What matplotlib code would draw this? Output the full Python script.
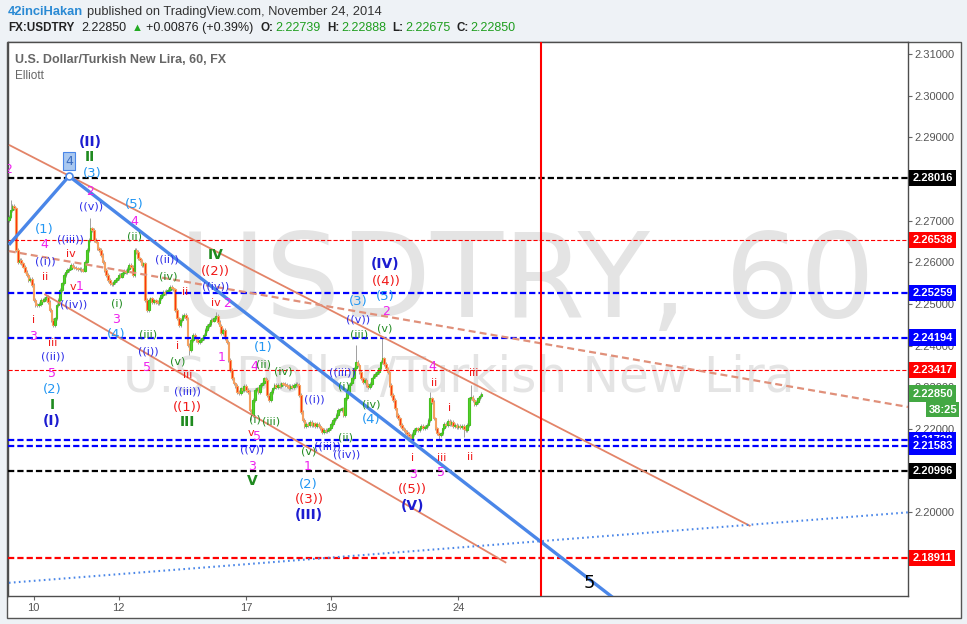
import matplotlib
matplotlib.use('Agg')
import matplotlib.pyplot as plt
import matplotlib.transforms as mtransforms
from matplotlib.patches import Rectangle
import numpy as np

plt.rcParams['lines.scale_dashes'] = False

W, H = 967, 624

# USDTRY, 60 min closes
closes = [
    2.2710, 2.2725, 2.2735, 2.2730, 2.2630, 2.2601, 2.2606, 2.2598, 2.2590, 2.2578,
    2.2570, 2.2558, 2.2560, 2.2546, 2.2510, 2.2498, 2.2497, 2.2500, 2.2510, 2.2508,
    2.2512, 2.2517, 2.2505, 2.2486, 2.2462, 2.2450, 2.2466, 2.2498, 2.2510, 2.2534,
    2.2550, 2.2570, 2.2576, 2.2582, 2.2585, 2.2594, 2.2590, 2.2587, 2.2586, 2.2583,
    2.2585, 2.2582, 2.2580, 2.2601, 2.2630, 2.2654, 2.2682, 2.2678, 2.2654, 2.2650,
    2.2634, 2.2630, 2.2618, 2.2601, 2.2582, 2.2570, 2.2558, 2.2550, 2.2548, 2.2552,
    2.2557, 2.2562, 2.2570, 2.2566, 2.2574, 2.2580, 2.2576, 2.2584, 2.2594, 2.2590,
    2.2570, 2.2630, 2.2625, 2.2610, 2.2605, 2.2594, 2.2598, 2.2510, 2.2486, 2.2510,
    2.2514, 2.2505, 2.2509, 2.2505, 2.2502, 2.2514, 2.2522, 2.2529, 2.2526, 2.2531,
    2.2534, 2.2541, 2.2538, 2.2535, 2.2486, 2.2466, 2.2450, 2.2462, 2.2471, 2.2474,
    2.2466, 2.2402, 2.2390, 2.2414, 2.2426, 2.2421, 2.2414, 2.2409, 2.2414, 2.2418,
    2.2426, 2.2438, 2.2447, 2.2452, 2.2462, 2.2460, 2.2466, 2.2471, 2.2457, 2.2447,
    2.2430, 2.2438, 2.2418, 2.2409, 2.2366, 2.2342, 2.2322, 2.2310, 2.2303, 2.2289,
    2.2286, 2.2298, 2.2294, 2.2303, 2.2294, 2.2289, 2.2245, 2.2234, 2.2270, 2.2294,
    2.2298, 2.2289, 2.2306, 2.2310, 2.2322, 2.2318, 2.2282, 2.2270, 2.2289, 2.2298,
    2.2306, 2.2301, 2.2306, 2.2303, 2.2310, 2.2308, 2.2306, 2.2303, 2.2298, 2.2303,
    2.2301, 2.2306, 2.2308, 2.2306, 2.2282, 2.2241, 2.2222, 2.2207, 2.2212, 2.2210,
    2.2217, 2.2210, 2.2214, 2.2207, 2.2212, 2.2207, 2.2202, 2.2193, 2.2198, 2.2195,
    2.2198, 2.2202, 2.2212, 2.2222, 2.2226, 2.2234, 2.2246, 2.2246, 2.2250, 2.2234,
    2.2274, 2.2289, 2.2306, 2.2310, 2.2322, 2.2346, 2.2361, 2.2354, 2.2337, 2.2322,
    2.2313, 2.2318, 2.2306, 2.2301, 2.2308, 2.2322, 2.2327, 2.2332, 2.2337, 2.2346,
    2.2361, 2.2370, 2.2356, 2.2346, 2.2337, 2.2306, 2.2282, 2.2270, 2.2250, 2.2234,
    2.2226, 2.2210, 2.2202, 2.2198, 2.2193, 2.2188, 2.2183, 2.2178, 2.2188, 2.2198,
    2.2202, 2.2198, 2.2202, 2.2207, 2.2202, 2.2205, 2.2210, 2.2222, 2.2274, 2.2265,
    2.2226, 2.2202, 2.2190, 2.2186, 2.2190, 2.2202, 2.2212, 2.2210, 2.2219, 2.2212,
    2.2217, 2.2207, 2.2210, 2.2205, 2.2207, 2.2205, 2.2207, 2.2200, 2.2198, 2.2210,
    2.2274, 2.2277, 2.2270, 2.2260, 2.2265, 2.2274, 2.2279, 2.2285,
]
first_open = 2.2702
spike_highs = {1: 2.2750, 46: 2.2706, 71: 2.2634, 117: 2.2481, 196: 2.2402,
               211: 2.2421, 238: 2.2289, 261: 2.2306}
spike_lows = {102: 2.2378, 137: 2.2222, 243: 2.2174, 257: 2.2181}

date_ticks = [14, 62, 134, 182, 254]
date_labels = ['10', '12', '17', '19', '24']
price_ticks = [2.19, 2.20, 2.21, 2.22, 2.23, 2.24, 2.25, 2.26, 2.27, 2.28, 2.29, 2.30, 2.31]

# horizontal levels
levels = [2.28016, 2.26538, 2.25259, 2.24194, 2.23417, 2.21738, 2.21583, 2.20996, 2.18911]
level_colors = ['#000000', '#ff0000', '#0000ff', '#0000ff', '#ff0000',
                '#0000ff', '#0000ff', '#000000', '#ff0000']
level_thick = [True, False, True, True, False, True, True, True, True]
last_price = 2.22850
countdown = '38:25'

# trend lines (bar index, price)
blue_wave_x = [0, 34, 346]
blue_wave_y = [2.2642, 2.2807, 2.1780]
upper_chan_x = [0, 419]
upper_chan_y = [2.2882, 2.1967]
lower_chan_x = [20, 281]
lower_chan_y = [2.2524, 2.1879]
dash_chan_x = [0, 508]
dash_chan_y = [2.2627, 2.2253]
dotted_x = [0, 508]
dotted_y = [2.1831, 2.2000]
now_bar = 300.5

# Elliott wave labels: text, bar, price, style
waves = [
    ('2', -0.6, 2.2824, 'm'), ('(II)', 45.8, 2.2889, 'B'), ('II', 45.8, 2.2853, 'G'),
    ('(3)', 46.9, 2.2814, 'c'), ('2', 45.8, 2.2771, 'm'), ('((v))', 46.3, 2.2735, 'b'),
    ('(5)', 70.6, 2.2738, 'c'), ('4', 70.6, 2.2699, 'm'), ('(1)', 19.8, 2.2680, 'c'),
    ('4', 19.8, 2.2642, 'm'), ('((iii))', 35.0, 2.2656, 'b'), ('((i))', 20.3, 2.2603, 'b'),
    ('iv', 35.0, 2.2620, 'r'), ('ii', 20.3, 2.2565, 'r'), ('v', 36.2, 2.2541, 'r'),
    ('1', 40.1, 2.2541, 'm'), ('((iv))', 36.7, 2.2500, 'b'), ('i', 14.1, 2.2462, 'r'),
    ('3', 13.6, 2.2421, 'm'), ('iii', 24.9, 2.2406, 'r'), ('((ii))', 24.9, 2.2373, 'b'),
    ('5', 24.3, 2.2334, 'm'), ('(2)', 24.3, 2.2294, 'c'), ('I', 24.3, 2.2258, 'G'),
    ('(I)', 24.3, 2.2219, 'B'), ('(i)', 61.0, 2.2502, 'g'), ('3', 60.5, 2.2464, 'm'),
    ('(ii)', 71.2, 2.2661, 'g'), ('(4)', 60.5, 2.2426, 'c'), ('(iii)', 78.5, 2.2426, 'g'),
    ('((i))', 78.5, 2.2385, 'b'), ('5', 78.0, 2.2347, 'm'), ('((ii))', 89.3, 2.2608, 'b'),
    ('(iv)', 89.8, 2.2567, 'g'), ('ii', 99.4, 2.2529, 'r'), ('IV', 116.9, 2.2618, 'G'),
    ('((2))', 116.9, 2.2577, 'R'), ('((iv))', 116.9, 2.2543, 'b'), ('iv', 116.9, 2.2502, 'r'),
    ('2', 123.2, 2.2502, 'm'), ('i', 95.5, 2.2399, 'r'), ('(v)', 95.5, 2.2361, 'g'),
    ('iii', 101.1, 2.2330, 'r'), ('((iii))', 101.1, 2.2291, 'b'), ('((1))', 101.1, 2.2251, 'R'),
    ('III', 101.1, 2.2217, 'G'), ('1', 120.3, 2.2371, 'm'), ('(1)', 143.5, 2.2395, 'c'),
    ('4', 138.4, 2.2351, 'm'), ('(ii)', 144.1, 2.2356, 'g'), ('(iv)', 154.8, 2.2339, 'g'),
    ('(i)', 139.0, 2.2222, 'g'), ('(iii)', 148.0, 2.2217, 'g'), ('v', 136.7, 2.2191, 'r'),
    ('5', 140.1, 2.2181, 'm'), ('((v))', 137.3, 2.2152, 'b'), ('3', 137.3, 2.2111, 'm'),
    ('((i))', 172.3, 2.2272, 'b'), ('(v)', 169.5, 2.2147, 'g'), ('1', 168.9, 2.2109, 'm'),
    ('V', 137.3, 2.2075, 'G'), ('(2)', 168.9, 2.2066, 'c'), ('((3))', 169.5, 2.2032, 'R'),
    ('(III)', 169.5, 2.1994, 'B'), ('((iii))', 180.2, 2.2159, 'b'), ('(ii)', 190.4, 2.2179, 'g'),
    ('((iv))', 191.0, 2.2140, 'b'), ('((iii))', 188.7, 2.2335, 'b'), ('(i)', 189.3, 2.2301, 'g'),
    ('(3)', 197.2, 2.2505, 'c'), ('((v))', 197.2, 2.2464, 'b'), ('(iii)', 197.7, 2.2426, 'g'),
    ('(iv)', 204.5, 2.2260, 'g'), ('(4)', 204.5, 2.2222, 'c'), ('(IV)', 212.4, 2.2596, 'B'),
    ('((4))', 213.0, 2.2555, 'R'), ('(5)', 212.4, 2.2517, 'c'), ('2', 213.0, 2.2481, 'm'),
    ('(v)', 212.4, 2.2442, 'g'), ('4', 239.5, 2.2349, 'm'), ('ii', 240.1, 2.2311, 'r'),
    ('i', 249.2, 2.2251, 'r'), ('iii', 262.7, 2.2335, 'r'), ('i', 228.2, 2.2131, 'r'),
    ('iii', 244.6, 2.2131, 'r'), ('ii', 260.5, 2.2133, 'r'), ('3', 228.2, 2.2092, 'm'),
    ('5', 244.1, 2.2095, 'm'), ('((5))', 228.2, 2.2054, 'R'), ('(V)', 228.2, 2.2015, 'B'),
]
wave_styles = {
    'B': dict(color='#1c1cd0', fontsize=10, fontweight='bold'),
    'G': dict(color='#1f8a1f', fontsize=10, fontweight='bold'),
    'g': dict(color='#1f8a1f', fontsize=8),
    'c': dict(color='#2196f3', fontsize=9.5),
    'm': dict(color='#ee22ee', fontsize=9),
    'R': dict(color='#f01818', fontsize=9.5),
    'r': dict(color='#f01818', fontsize=8),
    'b': dict(color='#2b2be8', fontsize=8),
}

fig = plt.figure(figsize=(W / 100, H / 100), dpi=100)
fig.patch.set_facecolor('#eef2f6')
panel = Rectangle((7 / W, 6 / H), 954 / W, 576 / H, transform=fig.transFigure,
                  facecolor='white', edgecolor='#555555', lw=1, zorder=-5)
fig.add_artist(panel)
ax = fig.add_axes([8 / W, 28 / H, 900 / W, 554 / H], zorder=2)
ax.set_facecolor('white')
ax.set_xlim(-0.5, 508)
ax.set_ylim(2.17993, 2.31288)

# watermark
ax.text(0.577, 0.562, 'USDTRY, 60', transform=ax.transAxes, ha='center', va='center',
        fontsize=85, color='#e4e4e4', family='DejaVu Sans', zorder=0.5)
ax.text(0.501, 0.393, 'U.S. Dollar/Turkish New Lira', transform=ax.transAxes, ha='center',
        va='center', fontsize=35, color='#e4e4e4', family='DejaVu Sans', zorder=0.5)

# candles
c = np.array(closes)
o = np.concatenate([[first_open], c[:-1]])
x = np.arange(len(c))
hi = np.maximum(o, c) + 0.0004
lo = np.minimum(o, c) - 0.0004
for k, v in spike_highs.items():
    hi[k] = v
for k, v in spike_lows.items():
    lo[k] = v
up = c >= o
ax.vlines(x, lo, hi, color='#a0a0a0', lw=0.7, zorder=2)
body_h = np.maximum(np.abs(c - o), 0.00012)
ax.bar(x, body_h, bottom=np.minimum(o, c), width=0.9,
       color=np.where(up, '#55d22e', '#ff2a00'),
       edgecolor=np.where(up, '#45c020', '#f5a060'), linewidth=0.8, zorder=3)

# horizontal levels
for lv, col, thick in zip(levels, level_colors, level_thick):
    if thick:
        ax.axhline(lv, color=col, lw=1.6, dashes=(4.5, 2.2), zorder=4)
    else:
        ax.axhline(lv, color=col, lw=0.8, dashes=(3, 1.5), zorder=4)

# drawings
ax.plot(upper_chan_x, upper_chan_y, color='#e38468', lw=1.3, zorder=4, solid_capstyle='butt')
ax.plot(lower_chan_x, lower_chan_y, color='#e38468', lw=1.3, zorder=4, solid_capstyle='butt')
ax.plot(dash_chan_x, dash_chan_y, color='#e0907a', lw=1.6, dashes=(5, 3), zorder=4)
ax.plot(dotted_x, dotted_y, color='#4a86e8', lw=1.5, dashes=(1.2, 2.4), zorder=4)
ax.plot(blue_wave_x, blue_wave_y, color='#4a86e8', lw=2.4, zorder=4, solid_capstyle='butt')
ax.plot(blue_wave_x[1], blue_wave_y[1], 'o', ms=5, mfc='white', mec='#4a86e8', mew=1.2, zorder=6)
ax.axvline(now_bar, color='#ff0000', lw=1.5, zorder=4)

ax.text(blue_wave_x[1], 2.2843, '4', ha='center', va='center', fontsize=9, color='#3b6cc0',
        bbox=dict(boxstyle='square,pad=0.2', fc='#a9c8f0', ec='#4a86e8', lw=0.8), zorder=7)
ax.text(328.2, 2.1831, '5', ha='center', va='center', fontsize=13, color='black',
        family='Liberation Sans Narrow', zorder=7)

for txt, bx, py, st in waves:
    ax.text(bx, py, txt, ha='center', va='center', clip_on=True, zorder=7, **wave_styles[st])

# axes styling
for s in ax.spines.values():
    s.set_color('#4d4d4d')
    s.set_linewidth(1)
ax.yaxis.tick_right()
ax.set_yticks(price_ticks)
ax.set_yticklabels(['%.5f' % v for v in price_ticks], family='Liberation Sans',
                   fontsize=8, color='#555555')
ax.set_xticks(date_ticks)
ax.set_xticklabels(date_labels, family=['Liberation Sans Narrow', 'Liberation Sans'],
                   fontsize=8, color='#555555')
ax.tick_params(axis='y', length=3, color='#666666', pad=1.5)
ax.tick_params(axis='x', length=3, color='#666666', pad=2)

trans = mtransforms.blended_transform_factory(ax.transAxes, ax.transData)
for lv, col in zip(levels, level_colors):
    ax.text(1.0047, lv, '%.5f' % lv, transform=trans, ha='left', va='center', color='white',
            fontsize=8, fontweight='bold', family='Liberation Sans', clip_on=False, zorder=8,
            bbox=dict(boxstyle='square,pad=0.28', fc=col, ec='none'))
ax.text(1.0047, last_price, '%.5f' % last_price, transform=trans, ha='left', va='center',
        color='white', fontsize=8, fontweight='bold', family='Liberation Sans', clip_on=False,
        zorder=9, bbox=dict(boxstyle='square,pad=0.28', fc='#43a843', ec='none'))
ax.annotate(countdown, xy=(1.0545, last_price), xycoords=trans, xytext=(0, -16),
            textcoords='offset pixels', ha='right', va='center', color='white', fontsize=8,
            fontweight='bold', family='Liberation Sans', annotation_clip=False, zorder=9,
            bbox=dict(boxstyle='square,pad=0.22', fc='#43a843', ec='none'))

# panel title
fig.text(15 / W, 1 - 60 / H, 'U.S. Dollar/Turkish New Lira, 60, FX', fontsize=9,
         fontweight='bold', color='#666666', va='center', family='Liberation Sans', zorder=5)
fig.text(15 / W, 1 - 76 / H, 'Elliott', fontsize=8.5, color='#666666', va='center',
         family='Liberation Sans', zorder=5)

# header rows
renderer = fig.canvas.get_renderer()


def write_row(x0, y0, parts):
    xp = x0
    for s, col, wt, size, gap in parts:
        t = fig.text(xp / W, 1 - y0 / H, s, color=col, fontweight=wt, fontsize=size,
                     va='center', ha='left', family=['Liberation Sans', 'DejaVu Sans'])
        xp += t.get_window_extent(renderer).width + gap


green = '#1f9e1f'
dark = '#222222'
write_row(8, 12, [('42inciHakan', '#2a8ad4', 'bold', 9.3, 4),
                  ('published on TradingView.com, November 24, 2014', '#333333', 'normal', 9.3, 0)])
write_row(8, 28, [('FX:USDTRY', dark, 'bold', 8.4, 7), ('2.22850', dark, 'normal', 9, 5),
                  ('\u25b2', '#22aa22', 'normal', 8, 4), ('+0.00876 (+0.39%)', dark, 'normal', 9, 7),
                  ('O:', dark, 'bold', 8.4, 2), ('2.22739', green, 'normal', 9, 6),
                  ('H:', dark, 'bold', 8.4, 2), ('2.22888', green, 'normal', 9, 6),
                  ('L:', dark, 'bold', 8.4, 2), ('2.22675', green, 'normal', 9, 6),
                  ('C:', dark, 'bold', 8.4, 2), ('2.22850', green, 'normal', 9, 0)])

fig.savefig('out.png', dpi=100, facecolor=fig.get_facecolor())
